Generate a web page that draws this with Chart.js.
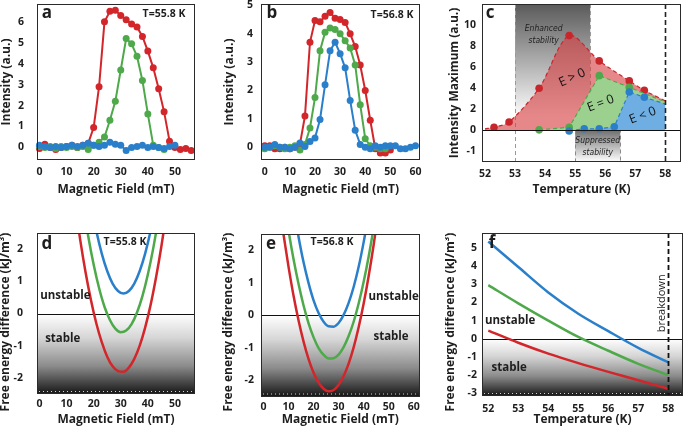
<!DOCTYPE html>
<html>
<head>
<meta charset="utf-8">
<script src="https://cdn.jsdelivr.net/npm/chart.js@4.4.1/dist/chart.umd.min.js"></script>
<style>
  html, body { margin: 0; padding: 0; background: #fff; }
  body { width: 685px; height: 429px; position: relative; overflow: hidden; }
  canvas { position: absolute; }
</style>
</head>
<body>
<canvas id="pa" width="222" height="205" style="left:0;top:0"></canvas>
<canvas id="pb" width="223" height="205" style="left:222px;top:0"></canvas>
<canvas id="pc" width="240" height="205" style="left:445px;top:0"></canvas>
<canvas id="pd" width="222" height="224" style="left:0;top:205px"></canvas>
<canvas id="pe" width="223" height="224" style="left:222px;top:205px"></canvas>
<canvas id="pf" width="240" height="224" style="left:445px;top:205px"></canvas>
<script>
/* ---- data: panel a (T=55.8 K) ---- */
const fieldA = [0, 2, 4, 6, 8, 10, 12, 14, 16, 18, 20, 22, 24, 26, 28, 30, 32, 34, 36, 38, 40, 42, 44, 46, 48, 50, 52, 54, 56];
const aRed = [-0.05, 0.15, 0.0, -0.1, 0.0, 0.05, 0.1, 0.0, 0.1, 0.2, 0.95, 2.9, 6.0, 6.5, 6.55, 6.3, 6.1, 5.9, 5.75, 5.3, 4.6, 3.8, 2.8, 1.7, 0.3, 0.0, -0.1, -0.05, -0.15];
const aGreen = [0.05, 0.0, 0.05, -0.05, 0.05, 0.0, 0.05, 0.0, 0.05, -0.1, 0.1, 0.25, 0.5, 1.3, 2.2, 3.7, 5.2, 4.95, 4.35, 3.2, 1.6, 0.1, 0.0, -0.1];
const aBlue = [0.1, 0.05, 0.0, 0.05, 0.0, 0.05, 0.1, 0.05, 0.1, 0.2, 0.1, 0.05, 0.1, 0.25, 0.15, 0.1, -0.15, 0.0, 0.05, 0.1, 0.0, 0.05, 0.0, -0.05, 0.05, 0.1];

/* ---- data: panel b (T=56.8 K) ---- */
const fieldB = [0, 2, 4, 6, 8, 10, 12, 14, 16, 18, 20, 22, 24, 26, 28, 30, 32, 34, 36, 38, 40, 42, 44, 46, 48, 50, 52, 54, 56, 58, 60];
const bRed = [0.05, 0.05, -0.05, -0.05, 0.0, -0.05, 0.0, 0.1, 1.1, 3.7, 4.47, 4.42, 4.62, 4.75, 4.55, 4.5, 4.4, 4.0, 3.55, 2.9, 2.0, 0.95, -0.05, -0.2, -0.2, -0.1];
const bGreen = [-0.05, 0.0, 0.05, 0.0, -0.05, 0.0, 0.05, -0.1, 0.1, 0.68, 1.75, 3.4, 4.05, 4.2, 4.15, 4.0, 3.75, 3.5, 2.9, 1.5, 0.3, 0.05, 0.0, -0.05, -0.05];
const bBlue = [0.0, 0.0, 0.1, 0.0, 0.0, -0.05, 0.0, 0.15, 0.03, 0.2, 0.33, 0.98, 2.2, 3.4, 3.7, 3.3, 2.8, 1.65, 0.6, 0.1, 0.0, -0.05, 0.05, 0.0, 0.05, 0.05, 0.05, -0.05, -0.05, 0.0, 0.05];

/* ---- data: panel c (intensity maxima) ---- */
const cTempRed = [52, 52.3, 52.8, 53.8, 54.8, 55.8, 56.8, 57.3, 58];
const cRed = [0.15, 0.3, 0.8, 4.0, 9.0, 6.6, 4.7, 3.8, 2.8];
const cTempGreen = [53.8, 54.8, 55.8, 56.8, 58];
const cGreen = [0.05, 0.3, 5.2, 4.1, 2.7];
const cTempBlue = [54.8, 55.3, 55.8, 56.3, 56.8, 57.3, 58];
const cBlue = [-0.05, 0.15, 0.15, 0.35, 3.65, 3.15, 2.5];
const cYTicks = [-2, 0, 2, 4, 6, 8, 10];
const cYLabels = ['-1', '0', '2', '4', '6', '8', '10'];

/* ---- data: panel d (free energy, 55.8 K) ---- */
const dRedX = [13, 15, 17, 19, 21, 23, 25, 27, 29, 31, 33, 35, 37, 39, 41, 43, 45, 47];
const dRed = [3.47, 2.31, 1.29, 0.42, -0.31, -0.89, -1.34, -1.64, -1.79, -1.81, -1.68, -1.41, -1.0, -0.44, 0.26, 1.11, 2.09, 3.22];
const dGreenX = [16, 18, 20, 22, 24, 26, 28, 30, 32, 34, 36, 38, 40, 42, 44, 46];
const dGreen = [3.44, 2.4, 1.52, 0.79, 0.21, -0.2, -0.47, -0.58, -0.53, -0.33, 0.03, 0.54, 1.21, 2.03, 3.01, 4.1];
const dBlueX = [19, 21, 23, 25, 27, 29, 31, 33, 35, 37, 39, 41, 43];
const dBlue = [3.41, 2.56, 1.86, 1.32, 0.93, 0.7, 0.62, 0.7, 0.93, 1.32, 1.86, 2.56, 3.41];

/* ---- data: panel e (free energy, 56.8 K) ---- */
const eRedX = [6, 8, 10, 12, 14, 16, 18, 20, 22, 24, 26, 28, 30, 32, 34, 36, 38, 40, 42, 44, 46];
const eRed = [3.59, 2.48, 1.49, 0.6, -0.16, -0.81, -1.35, -1.77, -2.07, -2.26, -2.34, -2.3, -2.14, -1.87, -1.49, -0.99, -0.37, 0.36, 1.21, 2.17, 3.25];
const eGreenX = [8, 10, 12, 14, 16, 18, 20, 22, 24, 26, 28, 30, 32, 34, 36, 38, 40, 42, 44, 46];
const eGreen = [3.59, 2.6, 1.72, 0.96, 0.3, -0.25, -0.68, -1.01, -1.22, -1.33, -1.32, -1.21, -0.98, -0.64, -0.2, 0.36, 1.03, 1.81, 2.7, 3.69];
const eBlueX = [10, 12, 14, 16, 18, 20, 22, 24, 26, 28, 30, 32, 34, 36, 38, 40, 42, 44];
const eBlue = [4.34, 3.31, 2.41, 1.63, 0.99, 0.46, 0.07, -0.2, -0.34, -0.35, -0.24, 0.01, 0.38, 0.87, 1.49, 2.25, 3.12, 4.13];

/* ---- data: panel f (free energy vs temperature) ---- */
const fTemp = [52, 53, 54, 55, 56, 57, 58];
const fBlue = [5.35, 3.95, 2.55, 1.38, 0.42, -0.5, -1.3];
const fGreen = [2.95, 1.95, 1.0, 0.1, -0.66, -1.38, -2.0];
const fRed = [0.45, -0.22, -0.82, -1.34, -1.82, -2.28, -2.75];

/* ticks */
const fieldTicksA = [0, 10, 20, 30, 40, 50];
const fieldTicksB = [0, 10, 20, 30, 40, 50, 60];
const tempTicks = [52, 53, 54, 55, 56, 57, 58];
const intTicksA = [0, 1, 2, 3, 4, 5, 6];
const intTicksB = [0, 1, 2, 3, 4, 5];
const feTicksDE = [-2, -1, 0, 1, 2];
const feTicksF = [-3, -2, -1, 0, 1, 2, 3, 4, 5];

const RED = '#d2262b', GREEN = '#4ea94a', BLUE = '#2a7fcb';
const FONT = '"Open Sans", "DejaVu Sans", sans-serif';
const INK = '#1e1e1e';

const pts = (xs, ys) => ys.map((y, i) => ({ x: xs[i], y }));

// plot frames (page px) -> chart area via padding + fixed axis sizes
function frame(b, xs, ys, datasets, plugin) {
  return {
    type: 'line',
    data: { datasets },
    options: {
      responsive: false, animation: false, events: [],
      layout: { padding: { left: 0, top: b.T - b.cy, right: b.cx + b.cw - b.R, bottom: 0 } },
      plugins: { legend: { display: false }, tooltip: { enabled: false } },
      scales: {
        x: {
          type: 'linear', min: xs.min, max: xs.max,
          grid: { display: false, drawTicks: false }, border: { display: false },
          afterBuildTicks: s => { s.ticks = xs.ticks.map(v => ({ value: v })); },
          afterFit: s => { s.height = b.cy + b.ch - b.B; s.paddingLeft = 0; s.paddingRight = 0; },
          ticks: { font: { family: FONT, size: 10.5, weight: 'bold' }, color: INK, padding: xs.pad, maxRotation: 0, autoSkip: false },
          title: { display: true, text: xs.title, color: INK, font: { family: FONT, size: 12, weight: 'bold', lineHeight: 1 }, padding: { top: 0, bottom: xs.tpad } }
        },
        y: {
          type: 'linear', min: ys.min, max: ys.max,
          grid: { display: false, drawTicks: false }, border: { display: false },
          afterBuildTicks: s => { s.ticks = ys.ticks.map(v => ({ value: v })); },
          afterFit: s => { s.width = b.L - b.cx; s.paddingTop = 0; s.paddingBottom = 0; },
          ticks: { font: { family: FONT, size: 10.5, weight: 'bold' }, color: INK, padding: ys.pad, autoSkip: false,
                   callback: ys.labels ? (v => ys.labels[ys.ticks.indexOf(v)]) : (v => v) },
          title: { display: !!ys.title, text: ys.title, color: INK, font: { family: FONT, size: 12, weight: 'bold', lineHeight: 1 }, padding: { top: ys.tpad, bottom: 0 } }
        }
      }
    },
    plugins: [plugin]
  };
}

function dots(label, xs, ys, color) {
  return { label, data: pts(xs, ys), borderColor: color, backgroundColor: color, borderWidth: 2,
           pointRadius: 3.5, pointBorderWidth: 0, tension: 0, clip: false };
}
function curve(label, xs, ys, color) {
  return { label, data: pts(xs, ys), borderColor: color, borderWidth: 2.5, pointRadius: 0,
           tension: 0.4, cubicInterpolationMode: 'monotone', fill: false };
}

function text(ctx, s, x, y, font, align, color, rot) {
  ctx.save();
  ctx.translate(x, y);
  if (rot) ctx.rotate(rot);
  ctx.font = font; ctx.fillStyle = color || INK;
  ctx.textAlign = align || 'center'; ctx.textBaseline = 'middle';
  ctx.fillText(s, 0, 0);
  ctx.restore();
}
function box(ctx, a) {
  ctx.save(); ctx.strokeStyle = '#2a2a2a'; ctx.lineWidth = 1;
  ctx.strokeRect(Math.round(a.left) + 0.5, Math.round(a.top) + 0.5, Math.round(a.right - a.left) - 1, Math.round(a.bottom - a.top) - 1);
  ctx.restore();
}
function hline(ctx, a, y, color, w) {
  ctx.save(); ctx.strokeStyle = color; ctx.lineWidth = w || 1;
  ctx.beginPath(); ctx.moveTo(a.left, Math.round(y) + 0.5); ctx.lineTo(a.right, Math.round(y) + 0.5); ctx.stroke(); ctx.restore();
}
function vdash(ctx, x, y0, y1, color, w, dash) {
  ctx.save(); ctx.strokeStyle = color; ctx.lineWidth = w; ctx.setLineDash(dash);
  ctx.beginPath(); ctx.moveTo(Math.round(x) + 0.5, y0); ctx.lineTo(Math.round(x) + 0.5, y1); ctx.stroke(); ctx.restore();
}
function stableShade(ctx, c) {
  const a = c.chartArea, y0 = c.scales.y.getPixelForValue(0);
  const g = ctx.createLinearGradient(0, y0, 0, a.bottom);
  g.addColorStop(0, '#ffffff'); g.addColorStop(0.3, '#d6d6d6'); g.addColorStop(0.65, '#8c8c8c'); g.addColorStop(1, '#161616');
  ctx.save(); ctx.fillStyle = g; ctx.fillRect(a.left, y0, a.right - a.left, a.bottom - y0);
  ctx.strokeStyle = 'rgba(255,255,255,0.8)'; ctx.setLineDash([1, 3]); ctx.lineWidth = 1;
  ctx.beginPath(); ctx.moveTo(a.left + 2, a.bottom - 2.5); ctx.lineTo(a.right - 2, a.bottom - 2.5); ctx.stroke();
  ctx.restore();
}
function ytitle(ctx, s, x, y) { text(ctx, s, x, y, 'bold 12px ' + FONT, 'center', INK, -Math.PI / 2); }

const LBL = 'bold 17px ' + FONT, TL = 'bold 10.5px ' + FONT, ST = 'bold 11.5px ' + FONT;

/* ---- panel a ---- */
const boxA = { cx: 0, cy: 0, cw: 222, ch: 205, L: 37, T: 3, R: 195, B: 160 };
new Chart(document.getElementById('pa'), frame(boxA,
  { min: -0.9, max: 57.4, ticks: fieldTicksA, pad: 6, title: 'Magnetic Field (mT)', tpad: 9 },
  { min: -0.6, max: 6.85, ticks: intTicksA, pad: 13, title: 'Intensity (a.u.)', tpad: 1 },
  [dots('blue', fieldA, aBlue, BLUE), dots('green', fieldA, aGreen, GREEN), dots('red', fieldA, aRed, RED)],
  { id: 'decoA', afterDatasetsDraw(c) {
      const ctx = c.ctx, a = c.chartArea;
      box(ctx, a);
      text(ctx, 'a', 47, 13, LBL);
      text(ctx, 'T=55.8 K', 164, 14, TL);
  } }));

/* ---- panel b ---- */
const boxB = { cx: 222, cy: 0, cw: 223, ch: 205, L: 261, T: 2, R: 420, B: 160 };
new Chart(document.getElementById('pb'), frame(boxB,
  { min: -1.5, max: 61.8, ticks: fieldTicksB, pad: 6, title: 'Magnetic Field (mT)', tpad: 9 },
  { min: -0.45, max: 5.05, ticks: intTicksB, pad: 8, title: 'Intensity (a.u.)', tpad: 2 },
  [dots('blue', fieldB, bBlue, BLUE), dots('green', fieldB, bGreen, GREEN), dots('red', fieldB, bRed, RED)],
  { id: 'decoB', afterDatasetsDraw(c) {
      const ctx = c.ctx, a = c.chartArea;
      box(ctx, a);
      text(ctx, 'b', 272 - 222, 13, LBL);
      text(ctx, 'T=56.8 K', 392 - 222, 15, TL);
  } }));

/* ---- panel c ---- */
const boxC = { cx: 445, cy: 0, cw: 240, ch: 205, L: 482, T: 1, R: 684, B: 162 };
const cDs = (label, xs, ys, line, fill, tension) => ({
  label, data: pts(xs, ys), borderColor: line, backgroundColor: fill, borderWidth: 1.2, borderDash: [4, 3],
  pointRadius: xs.map(t => (t === 52 || t === 58) ? 0 : 3.8), pointBackgroundColor: line, pointBorderWidth: 0,
  fill: 'origin', tension, clip: false });
new Chart(document.getElementById('pc'), frame(boxC,
  { min: 51.9, max: 58.52, ticks: tempTicks, pad: 6, title: 'Temperature (K)', tpad: 9 },
  { min: -3, max: 12, ticks: cYTicks, labels: cYLabels, pad: 6, title: 'Intensity Maximum (a.u.)', tpad: 4 },
  [cDs('blue', cTempBlue, cBlue, '#2a7fcb', '#6faee3', 0),
   cDs('green', cTempGreen, cGreen, '#4ea94a', '#9bd08f', 0),
   cDs('red', cTempRed, cRed, '#c9262b', 'rgba(214,62,66,0.62)', 0.3)],
  { id: 'decoC',
    beforeDatasetsDraw(c) {
      const ctx = c.ctx, a = c.chartArea, x = c.scales.x, y = c.scales.y;
      const y0 = y.getPixelForValue(0);
      let g = ctx.createLinearGradient(0, a.top, 0, y0);
      g.addColorStop(0, '#5a5a5a'); g.addColorStop(0.9, '#ffffff');
      ctx.fillStyle = g;
      ctx.fillRect(x.getPixelForValue(53), a.top, x.getPixelForValue(55.5) - x.getPixelForValue(53), y0 - a.top);
      g = ctx.createLinearGradient(0, y0, 0, a.bottom);
      g.addColorStop(0, '#707070'); g.addColorStop(1, '#ffffff');
      ctx.fillStyle = g;
      ctx.fillRect(x.getPixelForValue(55), y0, x.getPixelForValue(56.5) - x.getPixelForValue(55), a.bottom - y0);
      vdash(ctx, x.getPixelForValue(53), a.top, a.bottom, '#9a9a9a', 1, [4, 3]);
      vdash(ctx, x.getPixelForValue(55.5), a.top, y0, '#9a9a9a', 1, [4, 3]);
      vdash(ctx, x.getPixelForValue(55), y0, a.bottom, '#8a8a8a', 1, [4, 3]);
      vdash(ctx, x.getPixelForValue(56.5), y.getPixelForValue(3.5), a.bottom, '#8a8a8a', 1, [4, 3]);
    },
    afterDatasetsDraw(c) {
      const ctx = c.ctx, a = c.chartArea, x = c.scales.x, y = c.scales.y;
      const X = v => x.getPixelForValue(v), Y = v => y.getPixelForValue(v);
      hline(ctx, a, Y(0), '#111', 1.2);
      vdash(ctx, X(58), a.top, a.bottom, '#222', 1.6, [5, 3]);
      box(ctx, a);
      text(ctx, 'c', 490 - 445, 13, LBL);
      const it = 'italic 8.5px "Liberation Sans Narrow", "DejaVu Sans Condensed", sans-serif';
      text(ctx, 'Enhanced', X(53.95), Y(9.6), it, 'center', '#222');
      text(ctx, 'stability', X(53.95), Y(8.5), it, 'center', '#222');
      text(ctx, 'Suppressed', X(55.75), Y(-1.0), it, 'center', '#222');
      text(ctx, 'stability', X(55.75), Y(-2.15), it, 'center', '#222');
      const ef = '12.5px ' + FONT;
      text(ctx, 'E > 0', X(54.9), Y(5.0), ef, 'center', '#111', -0.42);
      text(ctx, 'E = 0', X(55.85), Y(2.55), ef, 'center', '#111', -0.36);
      text(ctx, 'E < 0', X(57.25), Y(1.4), ef, 'center', '#111', -0.36);
    } }));

/* ---- panel d ---- */
const boxD = { cx: 0, cy: 205, cw: 222, ch: 224, L: 37, T: 233, R: 195, B: 394 };
new Chart(document.getElementById('pd'), frame(boxD,
  { min: -0.9, max: 57.4, ticks: fieldTicksA, pad: 4, title: 'Magnetic Field (mT)', tpad: 3 },
  { min: -2.5, max: 2.5, ticks: feTicksDE, pad: 14, title: '' },
  [curve('blue', dBlueX, dBlue, BLUE), curve('green', dGreenX, dGreen, GREEN), curve('red', dRedX, dRed, RED)],
  { id: 'decoD',
    beforeDatasetsDraw(c) { stableShade(c.ctx, c); hline(c.ctx, c.chartArea, c.scales.y.getPixelForValue(0), '#111', 1); },
    afterDatasetsDraw(c) {
      const ctx = c.ctx, a = c.chartArea, x = c.scales.x, y = c.scales.y;
      box(ctx, a);
      text(ctx, 'd', 47, 244 - 205, LBL);
      text(ctx, 'T=55.8 K', 125, 242 - 205, TL);
      text(ctx, 'unstable', x.getPixelForValue(0.3), y.getPixelForValue(0.56), ST, 'left');
      text(ctx, 'stable', x.getPixelForValue(2.1), y.getPixelForValue(-0.77), ST, 'left');
      ytitle(ctx, 'Free energy difference (kJ/m³)', 6, 322 - 205);
    } }));

/* ---- panel e ---- */
const boxE = { cx: 222, cy: 205, cw: 223, ch: 224, L: 261, T: 234, R: 419.5, B: 396.5 };
new Chart(document.getElementById('pe'), frame(boxE,
  { min: -1.0, max: 62.3, ticks: fieldTicksB, pad: 4, title: 'Magnetic Field (mT)', tpad: 3 },
  { min: -2.5, max: 2.5, ticks: feTicksDE, pad: 7, title: '' },
  [curve('blue', eBlueX, eBlue, BLUE), curve('green', eGreenX, eGreen, GREEN), curve('red', eRedX, eRed, RED)],
  { id: 'decoE',
    beforeDatasetsDraw(c) { stableShade(c.ctx, c); hline(c.ctx, c.chartArea, c.scales.y.getPixelForValue(0), '#111', 1); },
    afterDatasetsDraw(c) {
      const ctx = c.ctx, a = c.chartArea, x = c.scales.x, y = c.scales.y;
      box(ctx, a);
      text(ctx, 'e', 271 - 222, 244 - 205, LBL);
      text(ctx, 'T=56.8 K', 332 - 222, 242 - 205, TL);
      text(ctx, 'unstable', x.getPixelForValue(41.9), y.getPixelForValue(0.57), ST, 'left');
      text(ctx, 'stable', x.getPixelForValue(43.9), y.getPixelForValue(-0.66), ST, 'left');
      ytitle(ctx, 'Free energy difference (kJ/m³)', 7, 322 - 205);
    } }));

/* ---- panel f ---- */
const boxF = { cx: 445, cy: 205, cw: 240, ch: 224, L: 482, T: 233, R: 683, B: 396 };
new Chart(document.getElementById('pf'), frame(boxF,
  { min: 51.79, max: 58.49, ticks: tempTicks, pad: 7, title: 'Temperature (K)', tpad: 3 },
  { min: -3.15, max: 5.82, ticks: feTicksF, pad: 5, title: '' },
  [curve('blue', fTemp, fBlue, BLUE), curve('green', fTemp, fGreen, GREEN), curve('red', fTemp, fRed, RED)],
  { id: 'decoF',
    beforeDatasetsDraw(c) { stableShade(c.ctx, c); hline(c.ctx, c.chartArea, c.scales.y.getPixelForValue(0), '#111', 1); },
    afterDatasetsDraw(c) {
      const ctx = c.ctx, a = c.chartArea, x = c.scales.x, y = c.scales.y;
      vdash(ctx, x.getPixelForValue(58), a.top, a.bottom, '#111', 1.8, [5, 3]);
      box(ctx, a);
      text(ctx, 'f', 492 - 445, 243 - 205, LBL);
      text(ctx, 'unstable', x.getPixelForValue(51.89), y.getPixelForValue(1.0), ST, 'left');
      text(ctx, 'stable', x.getPixelForValue(52.11), y.getPixelForValue(-1.57), ST, 'left');
      text(ctx, 'breakdown', x.getPixelForValue(57.8), y.getPixelForValue(1.95), '11px ' + FONT, 'center', INK, -Math.PI / 2);
      ytitle(ctx, 'Free energy difference (kJ/m³)', 6, 322 - 205);
    } }));
</script>
</body>
</html>
